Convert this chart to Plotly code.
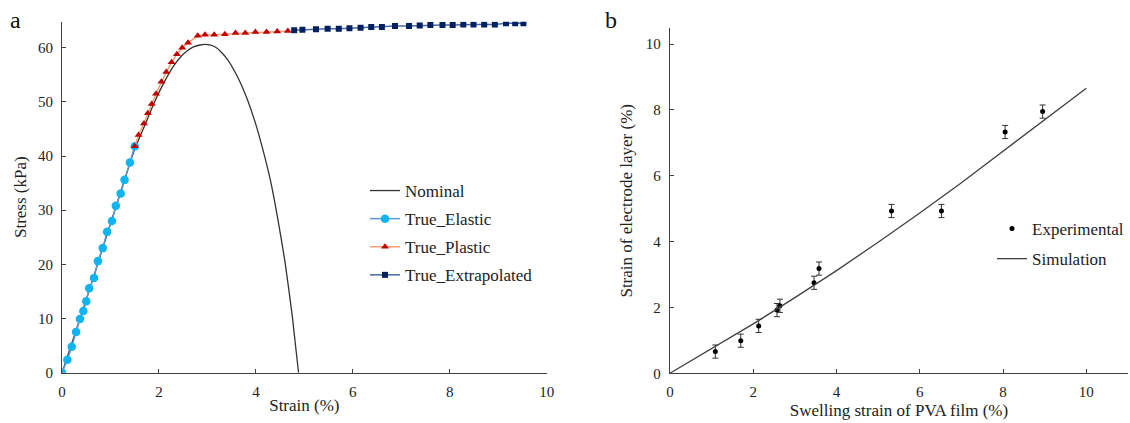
import plotly.graph_objects as go

# ---------------- Panel a data ----------------
nominal_x = [0, 0.5, 1.0, 1.5, 1.7, 1.9, 2.1, 2.3, 2.5, 2.7, 2.85, 2.95, 3.05, 3.2, 3.4, 3.6, 3.8, 4.0, 4.15, 4.3, 4.45, 4.6, 4.75, 4.88]
nominal_y = [0, 13.5, 27.5, 41.3, 45.5, 49.8, 53.5, 56.6, 58.8, 60.1, 60.5, 60.6, 60.5, 59.9, 58.0, 55.0, 51.0, 45.8, 41.0, 35.5, 28.5, 20.5, 10.5, 0]

elastic_x = [0, 0.11, 0.2, 0.29, 0.37, 0.44, 0.5, 0.56, 0.66, 0.74, 0.84, 0.93, 1.03, 1.11, 1.21, 1.29, 1.4, 1.5]
elastic_y = [0, 2.4, 4.8, 7.5, 9.9, 11.4, 13.2, 15.6, 17.5, 20.6, 23.0, 26.0, 28.0, 30.8, 33.1, 35.6, 38.8, 41.8]

plastic_x = [1.5, 1.58, 1.69, 1.77, 1.85, 1.94, 2.05, 2.15, 2.26, 2.37, 2.48, 2.6, 2.8, 2.95, 3.14, 3.36, 3.58, 3.78, 3.99, 4.22, 4.44, 4.66]
plastic_y = [41.8, 43.9, 46.0, 47.9, 49.6, 51.5, 53.7, 55.5, 57.3, 58.8, 60.0, 60.9, 62.2, 62.4, 62.4, 62.5, 62.7, 62.7, 62.9, 62.9, 63.0, 63.1]

extrap_x = [4.79, 4.96, 5.24, 5.48, 5.71, 5.93, 6.16, 6.38, 6.6, 6.87, 7.16, 7.38, 7.6, 7.85, 8.06, 8.28, 8.49, 8.71, 8.93, 9.16, 9.35, 9.52]
extrap_y = [63.2, 63.3, 63.4, 63.5, 63.5, 63.6, 63.7, 63.8, 63.8, 64.0, 64.0, 64.1, 64.2, 64.2, 64.2, 64.3, 64.3, 64.3, 64.3, 64.5, 64.5, 64.5]

a_xticks = [0, 2, 4, 6, 8, 10]
a_yticks = [0, 10, 20, 30, 40, 50, 60]

# ---------------- Panel b data ----------------
exp_x = [1.09, 1.70, 2.13, 2.57, 2.64, 3.46, 3.58, 5.32, 6.52, 8.05, 8.95]
exp_y = [0.66, 0.99, 1.44, 1.92, 2.05, 2.75, 3.18, 4.93, 4.93, 7.33, 7.95]
exp_err = [0.2, 0.2, 0.2, 0.2, 0.2, 0.2, 0.2, 0.2, 0.2, 0.2, 0.2]

sim_x = [0, 1, 2, 3, 4, 5, 6, 7, 8, 9, 10]
sim_y = [0, 0.75, 1.5, 2.3, 3.12, 3.98, 4.87, 5.79, 6.74, 7.7, 8.66]

b_xticks = [0, 2, 4, 6, 8, 10]
b_yticks = [0, 2, 4, 6, 8, 10]

FONT = "Times New Roman, Liberation Serif, serif"
AX = "#404040"

fig = go.Figure()

fig.add_trace(go.Scatter(x=nominal_x, y=nominal_y, mode="lines", name="Nominal",
                         line=dict(color="#333333", width=1.3, shape="spline", smoothing=0.5),
                         xaxis="x", yaxis="y", legend="legend", legendgroup="n"))
fig.add_trace(go.Scatter(x=elastic_x, y=elastic_y, mode="lines+markers", name="True_Elastic",
                         line=dict(color="#5b9bd5", width=1.5),
                         marker=dict(color="#10b4f0", size=8.5, symbol="circle"),
                         xaxis="x", yaxis="y", legend="legend", legendgroup="e"))
fig.add_trace(go.Scatter(x=plastic_x, y=plastic_y, mode="lines+markers", name="True_Plastic",
                         line=dict(color="#f4a070", width=1.5),
                         marker=dict(color="#c00000", size=7, symbol="triangle-up"),
                         xaxis="x", yaxis="y", legend="legend", legendgroup="p"))
fig.add_trace(go.Scatter(x=extrap_x, y=extrap_y, mode="lines+markers", name="True_Extrapolated",
                         line=dict(color="#4a6aa5", width=1.5),
                         marker=dict(color="#002060", size=6, symbol="square"),
                         xaxis="x", yaxis="y", legend="legend", legendgroup="x"))

fig.add_trace(go.Scatter(x=exp_x, y=exp_y, mode="markers", name="Experimental",
                         marker=dict(color="black", size=5),
                         error_y=dict(type="data", array=exp_err, color="#333333", thickness=1, width=3),
                         xaxis="x2", yaxis="y2", legend="legend2", legendgroup="ex"))
fig.add_trace(go.Scatter(x=sim_x, y=sim_y, mode="lines", name="Simulation",
                         line=dict(color="#404040", width=1.3),
                         xaxis="x2", yaxis="y2", legend="legend2", legendgroup="si"))

axis_common = dict(showline=True, linecolor=AX, linewidth=1.3, ticks="inside", ticklen=4,
                   tickcolor=AX, tickwidth=1, showgrid=False, zeroline=False, automargin=False,
                   tickfont=dict(family=FONT, size=15, color="#222"), ticklabelstandoff=5)

fig.update_layout(
    width=1130, height=423,
    margin=dict(l=0, r=0, t=0, b=0, autoexpand=False),
    paper_bgcolor="white", plot_bgcolor="white",
    font=dict(family=FONT, color="#222"),
    xaxis=dict(domain=[0.0549, 0.4838], range=[0, 10], tickvals=a_xticks, anchor="y",
               title=dict(text="Strain (%)", font=dict(family=FONT, size=17), standoff=0), **axis_common),
    yaxis=dict(domain=[0.1189, 0.9487], range=[0, 64.8], tickvals=a_yticks, anchor="x",
               title=dict(text="Stress (kPa)", font=dict(family=FONT, size=17), standoff=6), **axis_common),
    xaxis2=dict(domain=[0.5929, 0.9982], range=[0, 11], tickvals=b_xticks, anchor="y2",
                title=dict(text="Swelling strain of PVA film (%)", font=dict(family=FONT, size=17), standoff=4), **axis_common),
    yaxis2=dict(domain=[0.1175, 0.9331], range=[0, 10.48], tickvals=b_yticks, anchor="x2",
                title=dict(text="Strain of electrode layer (%)", font=dict(family=FONT, size=17), standoff=8), **axis_common),
    legend=dict(x=365 / 1130, y=1 - 173 / 423, xanchor="left", yanchor="top",
                font=dict(family=FONT, size=17, color="#222"), bgcolor="rgba(0,0,0,0)",
                tracegroupgap=3, itemwidth=30),
    legend2=dict(x=992 / 1130, y=1 - 211 / 423, xanchor="left", yanchor="top",
                 font=dict(family=FONT, size=17, color="#222"), bgcolor="rgba(0,0,0,0)",
                 tracegroupgap=5, itemwidth=30),
    annotations=[
        dict(text="a", x=15 / 1130, y=1 - 20 / 423, xref="paper", yref="paper", showarrow=False,
             xanchor="center", yanchor="middle", font=dict(family=FONT, size=24, color="#111")),
        dict(text="b", x=611 / 1130, y=1 - 20 / 423, xref="paper", yref="paper", showarrow=False,
             xanchor="center", yanchor="middle", font=dict(family=FONT, size=24, color="#111")),
    ],
)

fig.write_html("out.html", config={"displayModeBar": False},
               post_script="document.body.style.margin='0';document.body.style.overflow='hidden';")
